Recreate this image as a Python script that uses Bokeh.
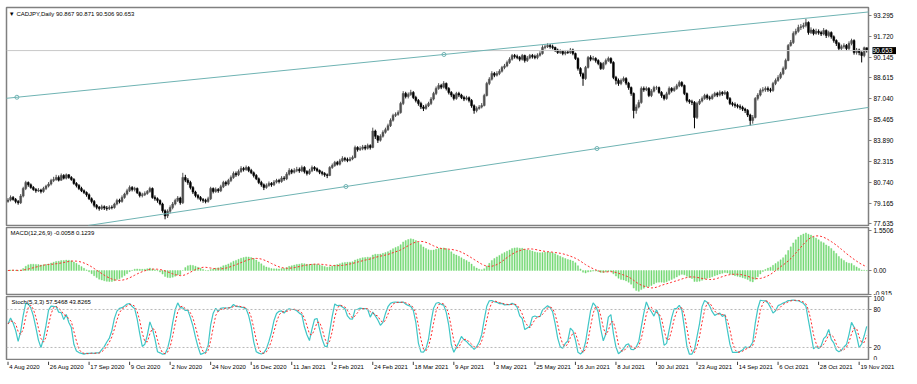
import numpy as np
import pandas as pd
from bokeh.plotting import figure
from bokeh.layouts import column
from bokeh.models import (Range1d, FixedTicker, Label, ColumnDataSource,
                          Slope, Span, CustomJSTickFormatter)
from bokeh.embed import file_html
from bokeh.resources import INLINE
from bokeh.core.properties import value

FONT = "Liberation Sans"

# ---------------- data ----------------
first_open = 79.30
close = [
    79.40, 79.60, 79.45, 79.30, 79.20, 79.70, 80.27, 80.72, 80.55, 80.35,
    80.20, 80.10, 80.15, 80.05, 80.27, 80.45, 80.60, 80.87, 80.95, 81.10,
    80.90, 81.25, 81.05, 81.30, 81.10, 80.95, 80.65, 80.50, 80.27, 80.10,
    79.97, 79.80, 79.50, 79.30, 79.00, 78.85, 78.76, 78.90, 78.80, 78.76,
    78.85, 78.84, 79.10, 79.37, 79.30, 79.60, 79.85, 80.10, 80.35, 80.20,
    80.27, 79.95, 79.74, 79.80, 79.90, 80.05, 80.27, 79.60, 79.50, 79.37,
    79.10, 78.60, 78.20, 78.55, 78.84, 79.10, 79.37, 79.55, 79.20, 81.10,
    80.90, 80.72, 80.35, 80.00, 79.74, 79.60, 79.45, 79.37, 79.30, 79.50,
    80.27, 80.05, 80.20, 80.10, 80.40, 80.72, 80.60, 80.87, 81.10, 81.40,
    81.30, 81.55, 81.78, 81.70, 81.85, 81.63, 81.45, 81.25, 81.00, 80.72,
    80.55, 80.35, 80.50, 80.65, 80.55, 80.75, 80.87, 80.80, 81.05, 81.00,
    81.35, 81.63, 81.50, 81.63, 81.70, 81.60, 81.85, 81.55, 81.40, 81.60,
    81.85, 81.75, 81.63, 81.50, 81.40, 81.30, 81.25, 81.85, 82.00, 82.23,
    82.10, 82.35, 82.53, 82.45, 82.38, 82.50, 82.60, 83.36, 83.20, 83.28,
    83.40, 83.30, 83.50, 83.36, 84.60, 84.20, 83.90, 84.20, 84.50, 84.70,
    85.00, 85.40, 85.77, 85.85, 85.99, 86.67, 87.42, 87.20, 87.35, 87.50,
    87.12, 86.90, 86.67, 86.40, 86.30, 86.50, 86.67, 87.00, 87.42, 87.80,
    88.03, 87.90, 88.18, 87.80, 87.50, 87.30, 87.05, 87.42, 87.30, 87.12,
    87.00, 87.10, 86.90, 86.50, 86.14, 86.30, 86.40, 86.52, 87.27, 88.18,
    88.50, 88.93, 88.80, 88.93, 89.10, 89.38, 89.50, 89.76, 90.00, 90.28,
    90.20, 90.13, 90.00, 90.28, 89.91, 90.10, 90.28, 90.20, 90.13, 90.30,
    90.43, 90.89, 90.95, 91.04, 90.95, 90.89, 90.70, 90.51, 90.60, 90.43,
    90.55, 90.51, 90.70, 90.43, 90.06, 89.30, 88.90, 88.55, 89.38, 90.13,
    90.00, 90.06, 89.90, 89.68, 89.30, 89.68, 89.90, 90.06, 89.76, 88.63,
    88.40, 88.18, 88.40, 88.55, 88.20, 87.87, 87.42, 86.14, 86.40, 86.75,
    87.80, 87.70, 87.80, 87.27, 87.60, 87.87, 87.87, 87.50, 87.27, 87.05,
    87.40, 87.80, 87.65, 87.80, 88.00, 88.25, 88.03, 87.42, 86.90, 86.80,
    86.75, 85.62, 86.67, 86.85, 87.05, 87.27, 87.10, 87.05, 87.25, 87.42,
    87.30, 87.50, 87.40, 87.50, 87.05, 86.67, 86.60, 86.52, 86.45, 86.37,
    86.25, 86.14, 85.80, 85.39, 85.62, 87.05, 87.30, 87.65, 87.70, 87.80,
    87.70, 87.65, 88.18, 88.40, 88.63, 88.90, 89.30, 89.91, 91.04, 91.26,
    91.94, 92.10, 92.39, 92.45, 92.54, 92.77, 92.01, 92.20, 91.94, 92.10,
    92.01, 91.90, 92.17, 91.79, 92.01, 91.70, 91.41, 91.19, 90.81, 90.95,
    91.04, 90.81, 91.19, 91.41, 90.51, 90.70, 90.51, 90.28, 90.867, 90.653,
]
high = [
    79.55, 79.75, 79.70, 79.55, 79.40, 79.85, 80.40, 80.85, 80.80, 80.65,
    80.45, 80.30, 80.30, 80.25, 80.40, 80.55, 80.75, 81.00, 81.15, 81.30,
    81.25, 81.40, 81.35, 81.40, 81.35, 81.20, 81.05, 80.75, 80.60, 80.40,
    80.20, 80.05, 79.90, 79.60, 79.40, 79.10, 78.95, 79.05, 79.00, 78.95,
    79.00, 79.00, 79.20, 79.50, 79.50, 79.75, 79.95, 80.25, 80.50, 80.45,
    80.40, 80.35, 80.05, 79.95, 80.05, 80.15, 80.40, 80.35, 79.75, 79.60,
    79.45, 79.20, 78.70, 78.70, 79.00, 79.25, 79.50, 79.70, 79.65, 81.45,
    81.30, 81.05, 80.85, 80.45, 80.10, 79.85, 79.70, 79.55, 79.50, 79.65,
    80.40, 80.35, 80.35, 80.30, 80.55, 80.85, 80.85, 81.00, 81.25, 81.55,
    81.55, 81.70, 81.95, 81.90, 82.00, 81.95, 81.75, 81.55, 81.35, 81.10,
    80.85, 80.65, 80.65, 80.80, 80.75, 80.90, 81.00, 81.00, 81.20, 81.20,
    81.50, 81.80, 81.75, 81.80, 81.90, 81.85, 82.00, 81.95, 81.65, 81.75,
    82.00, 81.95, 81.85, 81.70, 81.60, 81.50, 81.40, 81.95, 82.15, 82.35,
    82.35, 82.50, 82.70, 82.65, 82.60, 82.65, 82.75, 83.50, 83.45, 83.45,
    83.55, 83.55, 83.65, 83.60, 84.85, 84.70, 84.30, 84.35, 84.65, 84.85,
    85.15, 85.55, 85.90, 86.00, 86.15, 86.80, 87.60, 87.55, 87.50, 87.70,
    87.60, 87.25, 87.00, 86.80, 86.55, 86.65, 86.80, 87.15, 87.55, 87.95,
    88.20, 88.15, 88.35, 88.25, 87.90, 87.60, 87.40, 87.55, 87.55, 87.40,
    87.25, 87.25, 87.20, 87.00, 86.60, 86.45, 86.55, 86.70, 87.40, 88.30,
    88.65, 89.10, 89.05, 89.10, 89.25, 89.50, 89.65, 89.90, 90.15, 90.40,
    90.40, 90.35, 90.25, 90.40, 90.35, 90.25, 90.40, 90.40, 90.35, 90.45,
    90.60, 91.05, 91.10, 91.20, 91.15, 91.10, 90.95, 90.80, 90.75, 90.70,
    90.70, 90.70, 90.85, 90.80, 90.50, 90.15, 89.40, 89.00, 89.50, 90.25,
    90.30, 90.25, 90.15, 90.00, 89.80, 89.80, 90.05, 90.20, 90.15, 89.85,
    88.75, 88.55, 88.55, 88.70, 88.65, 88.30, 87.95, 87.50, 86.60, 86.95,
    87.95, 87.95, 87.95, 87.90, 87.75, 88.00, 88.00, 87.95, 87.60, 87.35,
    87.55, 87.95, 87.90, 87.95, 88.15, 88.40, 88.35, 88.10, 87.50, 87.00,
    86.95, 86.85, 86.80, 87.00, 87.20, 87.40, 87.40, 87.25, 87.40, 87.55,
    87.55, 87.65, 87.60, 87.65, 87.60, 87.15, 86.80, 86.75, 86.65, 86.60,
    86.50, 86.35, 86.25, 85.90, 85.80, 87.15, 87.45, 87.80, 87.90, 87.95,
    87.95, 87.85, 88.30, 88.55, 88.80, 89.05, 89.45, 90.05, 91.15, 91.45,
    92.10, 92.30, 92.60, 92.65, 92.75, 93.05, 92.85, 92.40, 92.30, 92.30,
    92.25, 92.15, 92.35, 92.25, 92.15, 92.10, 91.80, 91.50, 91.30, 91.10,
    91.20, 91.15, 91.35, 91.55, 91.50, 90.85, 90.80, 90.60, 90.95, 90.871,
]
low = [
    79.20, 79.30, 79.35, 79.15, 79.05, 79.10, 79.60, 80.15, 80.40, 80.25,
    80.10, 79.95, 80.00, 79.90, 79.95, 80.15, 80.35, 80.50, 80.75, 80.85,
    80.80, 80.85, 80.95, 80.95, 81.00, 80.85, 80.55, 80.35, 80.15, 80.00,
    79.85, 79.65, 79.40, 79.15, 78.85, 78.70, 78.60, 78.65, 78.65, 78.60,
    78.65, 78.70, 78.75, 79.00, 79.15, 79.20, 79.50, 79.75, 80.00, 80.05,
    80.05, 79.85, 79.60, 79.60, 79.70, 79.80, 79.95, 79.50, 79.35, 79.20,
    79.00, 78.45, 77.95, 78.05, 78.40, 78.70, 79.00, 79.25, 79.05, 79.10,
    80.75, 80.55, 80.20, 79.85, 79.60, 79.45, 79.30, 79.20, 79.15, 79.20,
    79.40, 79.90, 79.95, 79.95, 80.00, 80.30, 80.45, 80.50, 80.75, 81.00,
    81.15, 81.20, 81.45, 81.55, 81.60, 81.50, 81.35, 81.10, 80.90, 80.60,
    80.40, 80.15, 80.25, 80.40, 80.40, 80.45, 80.65, 80.65, 80.70, 80.85,
    80.90, 81.25, 81.35, 81.40, 81.50, 81.45, 81.50, 81.40, 81.25, 81.30,
    81.50, 81.60, 81.50, 81.35, 81.25, 81.15, 81.05, 81.20, 81.75, 81.90,
    82.00, 82.00, 82.25, 82.30, 82.25, 82.30, 82.40, 82.55, 83.05, 83.10,
    83.15, 83.15, 83.20, 83.20, 83.30, 84.00, 83.70, 83.80, 84.10, 84.40,
    84.60, 84.90, 85.30, 85.65, 85.75, 85.90, 86.55, 87.05, 87.05, 87.25,
    87.00, 86.75, 86.50, 86.25, 86.10, 86.20, 86.40, 86.55, 86.90, 87.30,
    87.70, 87.75, 87.80, 87.65, 87.35, 87.15, 86.90, 86.95, 87.15, 87.00,
    86.85, 86.90, 86.75, 86.35, 85.90, 86.00, 86.20, 86.30, 86.45, 87.20,
    88.05, 88.40, 88.65, 88.70, 88.80, 89.00, 89.25, 89.40, 89.65, 89.90,
    90.05, 90.00, 89.85, 89.90, 89.75, 89.80, 90.00, 90.05, 90.00, 90.00,
    90.20, 90.35, 90.75, 90.85, 90.80, 90.75, 90.55, 90.40, 90.40, 90.30,
    90.30, 90.40, 90.40, 90.30, 89.95, 89.15, 88.70, 88.00, 88.45, 89.30,
    89.85, 89.90, 89.75, 89.55, 89.20, 89.20, 89.55, 89.80, 89.65, 88.50,
    88.10, 88.00, 88.05, 88.30, 88.05, 87.70, 87.25, 85.55, 85.90, 86.30,
    86.65, 87.55, 87.60, 87.15, 87.15, 87.50, 87.70, 87.40, 87.10, 86.90,
    86.95, 87.30, 87.50, 87.55, 87.70, 87.90, 87.90, 87.30, 86.75, 86.65,
    86.55, 84.80, 85.50, 86.55, 86.75, 86.95, 86.95, 86.90, 86.95, 87.15,
    87.15, 87.20, 87.25, 87.30, 86.95, 86.55, 86.45, 86.35, 86.30, 86.20,
    86.10, 85.95, 85.65, 85.00, 85.15, 85.55, 86.90, 87.20, 87.50, 87.55,
    87.55, 87.50, 87.55, 88.05, 88.30, 88.50, 88.80, 89.20, 89.85, 90.95,
    91.15, 91.80, 92.00, 92.20, 92.30, 92.40, 91.85, 91.90, 91.80, 91.85,
    91.85, 91.75, 91.80, 91.60, 91.65, 91.55, 91.25, 91.00, 90.65, 90.70,
    90.80, 90.65, 90.70, 91.05, 90.35, 90.35, 90.30, 89.76, 90.15, 90.506,
]
date_ticks = [0, 16, 32, 48, 64, 80, 96, 112, 128, 144, 160, 176, 192, 208,
              224, 240, 256, 272, 288, 304, 320, 336]
date_labels = ["4 Aug 2020", "26 Aug 2020", "17 Sep 2020", "9 Oct 2020", "2 Nov 2020",
               "24 Nov 2020", "16 Dec 2020", "11 Jan 2021", "2 Feb 2021", "24 Feb 2021",
               "18 Mar 2021", "9 Apr 2021", "3 May 2021", "25 May 2021", "16 Jun 2021",
               "8 Jul 2021", "30 Jul 2021", "23 Aug 2021", "14 Sep 2021", "6 Oct 2021",
               "28 Oct 2021", "19 Nov 2021"]
price_ticks = [93.295, 91.720, 90.145, 88.615, 87.040, 85.465, 83.890, 82.315,
               80.740, 79.165, 77.635]
macd_ticks = [1.5506, 0.0, -0.915]
stoch_ticks = [100, 80, 20, 0]
stoch_levels = [80, 20]
last_price = 90.653
upper_x = [3.5, 172.1]
upper_y = [87.14, 90.36]
lower_x = [133.4, 232.5]
lower_y = [80.42, 83.28]
title_main = "\u25bc CADJPY,Daily  90.867 90.871 90.506 90.653"
title_macd = "MACD(12,26,9) -0.0058 0.1239"
title_stoch = "Stoch(5,3,3) 57.5468 43.8265"

# ---------------- derived ----------------
n = len(close)
idx = np.arange(n)
c = np.array(close)
o = np.array([first_open] + close[:-1])
h = np.array(high)
l = np.array(low)
bull = c >= o
src = ColumnDataSource(dict(
    x=idx, h=h, l=l,
    top=np.maximum(o, c), bot=np.minimum(o, c),
    col=np.where(bull, "#505050", "#000000"),
))


def ema(x, span):
    a = 2.0 / (span + 1)
    out = np.empty_like(x)
    out[0] = x[0]
    for i in range(1, len(x)):
        out[i] = a * x[i] + (1 - a) * out[i - 1]
    return out


macd = ema(c, 12) - ema(c, 26)
sig = pd.Series(macd).rolling(9, min_periods=1).mean().values
hh = pd.Series(h).rolling(5, min_periods=1).max()
ll = pd.Series(l).rolling(5, min_periods=1).min()
num = (pd.Series(c) - ll).rolling(3, min_periods=1).sum()
den = (hh - ll).rolling(3, min_periods=1).sum()
k = (100 * num / den).values
d = pd.Series(k).rolling(3, min_periods=1).mean().values

# ---------------- figures ----------------
FW = 862
LB, RB = 6, 42
X0, X1 = -0.6, 339.7
xr = Range1d(X0, X1)
GRAY = "#808080"
TEAL = "#6fb3b3"


def base(fh, ylo, yhi, top, bottom):
    p = figure(frame_width=FW, frame_height=fh, x_range=xr, y_range=Range1d(ylo, yhi),
               output_backend="svg", toolbar_location=None,
               x_axis_location=None, y_axis_location="right",
               min_border_left=LB, min_border_right=RB,
               min_border_top=top, min_border_bottom=bottom)
    p.xgrid.visible = False
    p.ygrid.visible = False
    p.outline_line_color = GRAY
    p.outline_line_width = 1.5
    p.background_fill_color = "white"
    p.border_fill_color = "white"
    ax = p.yaxis[0]
    ax.axis_line_color = GRAY
    ax.major_tick_line_color = GRAY
    ax.major_tick_out = 3
    ax.major_tick_in = 0
    ax.minor_tick_out = 0
    ax.minor_tick_in = 0
    ax.major_label_standoff = 2
    ax.major_label_text_font = FONT
    ax.major_label_text_font_size = "6.5px"
    ax.major_label_text_color = "black"
    return p


# main price pane
plo, phi = 77.484, 93.897
p1 = base(218, plo, phi, 7, 1)
p1.yaxis.ticker = FixedTicker(ticks=price_ticks)
p1.yaxis.formatter = CustomJSTickFormatter(code="return tick.toFixed(3)")
p1.add_layout(Span(location=last_price, dimension="width", line_color="#c8c8c8", line_width=1))
for xs, ys in ((upper_x, upper_y), (lower_x, lower_y)):
    g = (ys[1] - ys[0]) / (xs[1] - xs[0])
    p1.add_layout(Slope(gradient=g, y_intercept=ys[0] - g * xs[0], line_color=TEAL, line_width=1))
    p1.scatter(xs, ys, marker="circle", size=4, fill_color="white", line_color=TEAL)
p1.segment(x0="x", y0="l", x1="x", y1="h", source=src, line_color="col", line_width=1)
p1.vbar(x="x", width=0.75, top="top", bottom="bot", source=src, fill_color="col",
        line_color="col", line_width=0.5)
p1.add_layout(Label(x=0.3, y=phi - 0.23, text=title_main, text_baseline="top",
                    text_font=FONT, text_font_size="6px", text_color="black"))
# current-price tag on the price scale (side panel => not clipped to the frame)
p1.add_layout(Label(x=X1, y=last_price, x_offset=4, text=" 90.653 ",
                    text_baseline="middle", text_font=FONT, text_font_size="6.5px",
                    text_color="white", background_fill_color="black"), "above")

# MACD pane
mlo, mhi = -0.93, 1.667
p2 = base(67, mlo, mhi, 1, 1)
p2.yaxis.ticker = FixedTicker(ticks=macd_ticks)
p2.yaxis.formatter = CustomJSTickFormatter(
    code="if (Math.abs(tick) < 1e-9) { return '0.00'; } return tick.toString();")
p2.vbar(x=idx, width=0.45, top=macd, bottom=0, fill_color="#74d874", line_color="#74d874",
        line_width=0.4)
p2.line(idx, sig, line_color="#ff2a2a", line_dash="2 2", line_width=1)
p2.add_layout(Label(x=1.0, y=mhi - 0.08, text=title_macd, text_baseline="top",
                    text_font=FONT, text_font_size="6px", text_color="black"))

# Stochastic pane
slo, shi = -0.6, 100.5
p3 = base(64, slo, shi, 1, 0)
p3.yaxis.ticker = FixedTicker(ticks=stoch_ticks)
for lv in stoch_levels:
    p3.add_layout(Span(location=lv, dimension="width", line_color="#b8b8b8",
                       line_dash="2 2", line_width=1))
p3.line(idx, k, line_color="#3fc6c6", line_width=1.2)
p3.line(idx, d, line_color="#ff2a2a", line_dash="2 2", line_width=1)
p3.add_layout(Label(x=1.4, y=shi - 3.9, text=title_stoch, text_baseline="top",
                    text_font=FONT, text_font_size="6px", text_color="black"))

# time scale strip (same bar scale, wider frame so the last label fits)
px_per_bar = FW / (X1 - X0)
p4 = figure(frame_width=FW + RB, frame_height=14,
            x_range=Range1d(X0, X0 + (FW + RB) / px_per_bar), y_range=Range1d(0, 14),
            output_backend="svg", toolbar_location=None,
            x_axis_location=None, y_axis_location=None,
            min_border_left=LB, min_border_right=0, min_border_top=1, min_border_bottom=2)
p4.xgrid.visible = False
p4.ygrid.visible = False
p4.outline_line_color = None
dsrc = ColumnDataSource(dict(x=date_ticks, xt=[t + 0.5 for t in date_ticks],
                             y0=[14] * len(date_ticks), y1=[10.5] * len(date_ticks),
                             yt=[9] * len(date_ticks), t=date_labels))
p4.segment(x0="x", y0="y0", x1="x", y1="y1", source=dsrc, line_color="#404040", line_width=1)
p4.text(x="xt", y="yt", text="t", source=dsrc, text_align="left", text_baseline="middle",
        text_font=value(FONT), text_font_size=value("6px"), text_color="black")

layout = column(p1, p2, p3, p4, spacing=0)
open("out.html", "w").write(file_html(layout, INLINE))
